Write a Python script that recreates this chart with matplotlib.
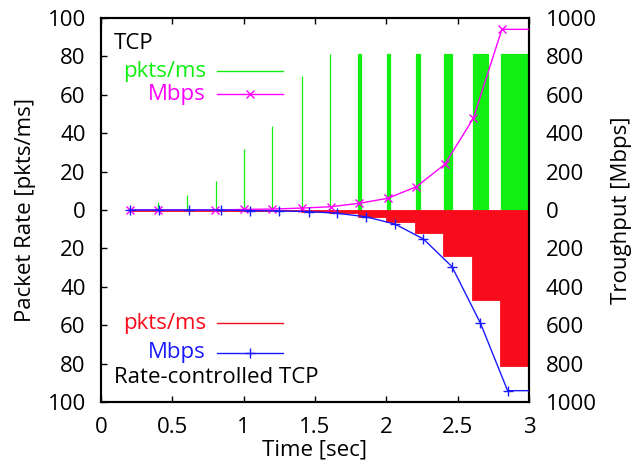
import matplotlib
matplotlib.use("Agg")
import matplotlib.pyplot as plt
from matplotlib.ticker import FuncFormatter, MultipleLocator

# ---- data ----
# TCP (top, green): bursts of packets, pkts/ms
green_start = [0.400, 0.600, 0.805, 1.000, 1.200, 1.410, 1.605, 1.803, 2.007, 2.207, 2.404, 2.609, 2.803]
green_end   = [0.400, 0.600, 0.805, 1.000, 1.200, 1.410, 1.607, 1.820, 2.025, 2.235, 2.462, 2.714, 3.000]
green_peak  = [4, 8, 15, 32, 44, 70, 81, 81, 81, 81, 81, 81, 81]

# Rate-controlled TCP (bottom, red): paced rate per 0.2 s round, pkts/ms
red_start = [0.2, 0.4, 0.6, 0.8, 1.0, 1.2, 1.4, 1.6, 1.8, 2.0, 2.2, 2.4, 2.6, 2.8]
red_end   = [0.4, 0.6, 0.8, 1.0, 1.2, 1.4, 1.6, 1.8, 2.0, 2.2, 2.4, 2.6, 2.8, 3.0]
red_rate  = [0.3, 0.3, 0.3, 0.3, 0.4, 0.6, 0.9, 1.8, 3.5, 6, 12, 24, 47, 81]

# Throughput, Mbps
tcp_t    = [0.20, 0.40, 0.80, 1.00, 1.20, 1.41, 1.61, 1.81, 2.01, 2.21, 2.41, 2.61, 2.81, 3.00]
tcp_mbps = [0, 0, 0, 3, 5, 10, 17, 35, 61, 121, 238, 478, 941, 941]

rc_t    = [0.20, 0.41, 0.62, 0.84, 1.045, 1.25, 1.455, 1.655, 1.855, 2.06, 2.26, 2.46, 2.66, 2.85, 3.00]
rc_mbps = [0, 0, 0, 0, 3, 5, 8, 17, 35, 73, 151, 295, 590, 941, 941]

x_ticks = [0, 0.5, 1, 1.5, 2, 2.5, 3]

GREEN = "#11ee11"
MAGENTA = "#ff00ff"
RED = "#f80c1c"
BLUE = "#1a1aff"

plt.rcParams["font.family"] = ["Open Sans", "DejaVu Sans"]
plt.rcParams["font.size"] = 16

fig = plt.figure(figsize=(6.35, 4.65), dpi=100)
ax = fig.add_axes([101 / 635, 1 - 402 / 465, 428 / 635, 384 / 465])

# green bursts (positive)
g_w = [e - s for s, e in zip(green_start, green_end)]
ax.bar(green_start, green_peak, width=g_w, align="edge", color=GREEN,
       edgecolor=GREEN, linewidth=0.9, zorder=2)
# red bursts (negative)
r_w = [e - s for s, e in zip(red_start, red_end)]
ax.bar(red_start, [-v for v in red_rate], width=r_w, align="edge", color=RED,
       edgecolor=RED, linewidth=0.6, zorder=2)

ax.set_xlim(0, 3)
ax.set_ylim(-100, 100)
ax.set_xticks(x_ticks)
ax.xaxis.set_major_formatter(FuncFormatter(lambda v, p: f"{v:g}"))
ax.yaxis.set_major_locator(MultipleLocator(20))
ax.yaxis.set_major_formatter(FuncFormatter(lambda v, p: f"{abs(v):g}"))
ax.tick_params(axis="x", direction="in", length=4.5, width=1, top=True, pad=11)
ax.tick_params(axis="y", direction="in", length=4.5, width=1, right=False, pad=11)
for s in ax.spines.values():
    s.set_linewidth(1.5)

ax.set_xlabel("Time [sec]")
ax.xaxis.set_label_coords(0.5, -(450 - 402) / 384)
ax.xaxis.label.set_va("center")
ax.set_ylabel("Packet Rate [pkts/ms]")
ax.yaxis.set_label_coords((25 - 101) / 428, 0.5)
ax.yaxis.label.set_va("center")

# throughput on right axis
ax2 = ax.twinx()
ax2.set_ylim(-1000, 1000)
ax2.yaxis.set_major_locator(MultipleLocator(200))
ax2.yaxis.set_major_formatter(FuncFormatter(lambda v, p: f"{abs(v):g}"))
ax2.tick_params(axis="y", direction="in", length=0, pad=12)
for s in ax2.spines.values():
    s.set_linewidth(1.5)
ax2.plot(tcp_t, tcp_mbps, color=MAGENTA, lw=1.0, marker="x", ms=6, mew=1.0,
         markevery=slice(0, len(tcp_t) - 1), clip_on=True, zorder=3)
ax2.plot(rc_t, [-v for v in rc_mbps], color=BLUE, lw=1.0, marker="+", ms=7, mew=1.0,
         markevery=slice(0, len(rc_t) - 1), clip_on=True, zorder=3)
ax2.set_ylabel("Troughput [Mbps]")
ax2.yaxis.set_label_coords((622 - 101) / 428, 0.5)
ax2.yaxis.label.set_va("center")

# manual key, gnuplot style
T = ax.transAxes
def fx(px):
    return (px - 101) / 428
def fy(py):
    return 1 - (py - 18) / 384

ax.text(fx(114), fy(43.5), "TCP", transform=T, ha="left", va="center", color="black", zorder=5)
ax.text(fx(206), fy(71), "pkts/ms", transform=T, ha="right", va="center", color=GREEN, zorder=5)
ax.plot([fx(217), fx(283)], [fy(70.7)] * 2, transform=T, color=GREEN, lw=1.0, zorder=5)
ax.text(fx(206), fy(94.5), "Mbps", transform=T, ha="right", va="center", color=MAGENTA, zorder=5)
ax.plot([fx(217), fx(283)], [fy(94.3)] * 2, transform=T, color=MAGENTA, lw=1.0, zorder=5)
ax.plot([fx(250)], [fy(94.3)], transform=T, color=MAGENTA, marker="x", ms=6, mew=1.0, zorder=5)

ax.text(fx(206), fy(323.5), "pkts/ms", transform=T, ha="right", va="center", color=RED, zorder=5)
ax.plot([fx(217), fx(283)], [fy(323)] * 2, transform=T, color=RED, lw=1.0, zorder=5)
ax.text(fx(206), fy(352.5), "Mbps", transform=T, ha="right", va="center", color=BLUE, zorder=5)
ax.plot([fx(217), fx(283)], [fy(352.7)] * 2, transform=T, color=BLUE, lw=1.0, zorder=5)
ax.plot([fx(250)], [fy(352.7)], transform=T, color=BLUE, marker="+", ms=7, mew=1.0, zorder=5)
ax.text(fx(114), fy(377), "Rate-controlled TCP", transform=T, ha="left", va="center", color="black", zorder=5)

fig.savefig("out.png", dpi=100)
